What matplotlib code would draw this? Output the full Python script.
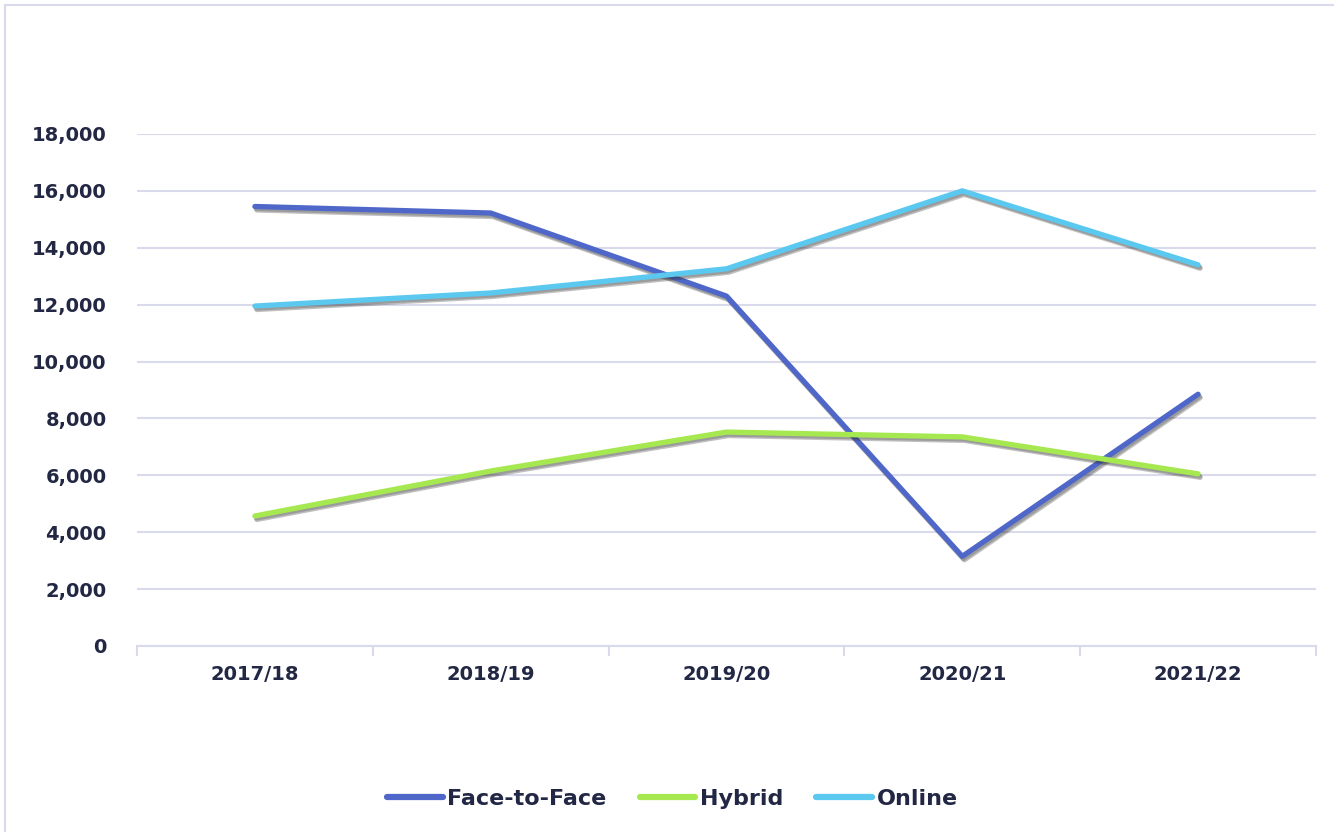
import matplotlib.pyplot as plt
import matplotlib.patheffects as pe
from matplotlib.ticker import FuncFormatter, FixedLocator
from matplotlib.patches import Rectangle

years = ['2017/18', '2018/19', '2019/20', '2020/21', '2021/22']
face_to_face = [15450, 15220, 12300, 3150, 8850]
hybrid = [4570, 6150, 7520, 7350, 6050]
online = [11950, 12410, 13260, 16000, 13400]

text_col = '#222744'
grid_col = '#D9DAEC'

plt.rcParams['font.family'] = ['DejaVu Sans']
plt.rcParams['font.weight'] = 'bold'

fig = plt.figure(figsize=(13.34, 8.32), dpi=100)
ax = fig.add_axes([0.1027, 0.2236, 0.8838, 0.6154])

# outer frame of the chart
fig.patches.append(Rectangle((0.004, -0.01), 1.5, 1.004, transform=fig.transFigure,
                             fill=False, edgecolor=grid_col, linewidth=1.5))

# soft drop shadow under each line
shadow = [pe.SimpleLineShadow(offset=(1.5, -2.5), shadow_color='#303030', alpha=0.3),
          pe.SimpleLineShadow(offset=(1.0, -1.5), shadow_color='#303030', alpha=0.25),
          pe.Normal()]
x = range(len(years))
ax.plot(x, face_to_face, color='#4F67C8', lw=3.8, label='Face-to-Face',
        solid_capstyle='round', solid_joinstyle='round', path_effects=shadow, zorder=3)
ax.plot(x, hybrid, color='#A5E84F', lw=3.8, label='Hybrid',
        solid_capstyle='round', solid_joinstyle='round', path_effects=shadow, zorder=3)
ax.plot(x, online, color='#5BC8F0', lw=3.8, label='Online',
        solid_capstyle='round', solid_joinstyle='round', path_effects=shadow, zorder=3)

ax.set_xlim(-0.5, len(years) - 0.5)
ax.set_ylim(0, 18000)
ax.set_yticks(range(0, 18001, 2000))
ax.yaxis.set_major_formatter(FuncFormatter(lambda v, p: f'{int(v):,}'))
ax.set_xticks(list(x))
ax.set_xticklabels(years)
ax.xaxis.set_minor_locator(FixedLocator([i - 0.5 for i in range(len(years) + 1)]))

ax.grid(axis='y', color=grid_col, lw=1.5)
ax.set_axisbelow(True)
for s in ['top', 'right', 'left']:
    ax.spines[s].set_visible(False)
ax.spines['bottom'].set_color(grid_col)
ax.spines['bottom'].set_linewidth(1.5)

ax.tick_params(axis='y', length=0, pad=22, labelsize=14, labelcolor=text_col)
ax.tick_params(axis='x', which='major', length=0, pad=14, labelsize=14, labelcolor=text_col)
ax.tick_params(axis='x', which='minor', length=7, width=1.5, color=grid_col)

leg = fig.legend(loc='center', bbox_to_anchor=(0.504, 0.04), ncol=3, frameon=False,
                 fontsize=16, handlelength=2.5, handletextpad=0.2, columnspacing=1.5)
for t in leg.get_texts():
    t.set_color(text_col)
for h in leg.get_lines():
    h.set_linewidth(4.5)
    h.set_solid_capstyle('round')
    h.set_path_effects([])

fig.savefig('out.png', dpi=100)
